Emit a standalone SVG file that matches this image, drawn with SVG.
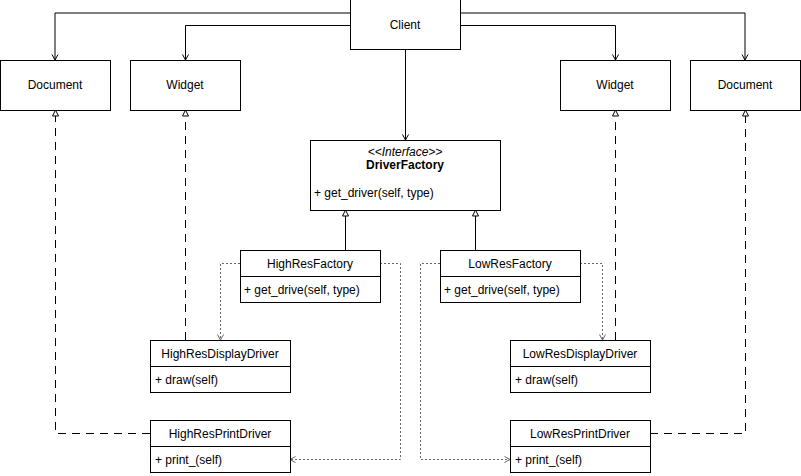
<svg xmlns="http://www.w3.org/2000/svg" width="801" height="476" viewBox="0 0 801 476">
<style>
.box{fill:#fff;stroke:#000;stroke-width:1}
.t{font-family:"Liberation Sans",Arial,sans-serif;font-size:12px;fill:#000}
.c{text-anchor:middle}
.solid{fill:none;stroke:#000;stroke-width:1}
.dash{fill:none;stroke:#000;stroke-width:1;stroke-dasharray:8 6}
.dot{fill:none;stroke:#666;stroke-width:1;stroke-dasharray:2 2}
</style>
<defs>
<marker id="open" viewBox="0 0 10 10" refX="10" refY="5" markerWidth="10" markerHeight="10" markerUnits="userSpaceOnUse" orient="auto">
<path d="M4.5,2 L10,5 L4.5,8" fill="none" stroke="#000" stroke-width="1"/>
</marker>
<marker id="openg" viewBox="0 0 10 10" refX="10" refY="5" markerWidth="10" markerHeight="10" markerUnits="userSpaceOnUse" orient="auto">
<path d="M4.5,2 L10,5 L4.5,8" fill="none" stroke="#666" stroke-width="1"/>
</marker>
<marker id="tri" viewBox="0 0 10 10" refX="10" refY="5" markerWidth="10" markerHeight="10" markerUnits="userSpaceOnUse" orient="auto">
<path d="M10,5 L4,2 L4,8 Z" fill="#fff" stroke="#000" stroke-width="1"/>
</marker>
</defs>

<g id="connectors">
<path class="solid" d="M350,13 H55 V60" marker-end="url(#open)"/>
<path class="solid" d="M350,25.5 H185.5 V60" marker-end="url(#open)"/>
<path class="solid" d="M460,25.5 H615.5 V60" marker-end="url(#open)"/>
<path class="solid" d="M460,13 H745 V60" marker-end="url(#open)"/>
<path class="solid" d="M405.5,50 V140" marker-end="url(#open)"/>
<path class="solid" d="M345.5,250 V210" marker-end="url(#tri)"/>
<path class="solid" d="M475.5,250 V210" marker-end="url(#tri)"/>
<path class="dash" d="M185.5,340 V110" marker-end="url(#tri)"/>
<path class="dash" d="M150,433.5 H55.5 V110" marker-end="url(#tri)"/>
<path class="dash" d="M615.5,340 V110" marker-end="url(#tri)"/>
<path class="dash" d="M650,433.5 H745.5 V110" marker-end="url(#tri)"/>
<path class="dot" d="M240,263.5 H220.5 V340" marker-end="url(#openg)"/>
<path class="dot" d="M380,263.5 H400.5 V459.5 H290" marker-end="url(#openg)"/>
<path class="dot" d="M440,263.5 H420.5 V459.5 H510" marker-end="url(#openg)"/>
<path class="dot" d="M580,263.5 H602.5 V340" marker-end="url(#openg)"/>
</g>

<g id="client">
<rect class="box" x="350.5" y="-0.5" width="110" height="50"/>
<text class="t c" x="405" y="29">Client</text>
</g>
<g id="document-left">
<rect class="box" x="0.5" y="60.5" width="110" height="50"/>
<text class="t c" x="55" y="89">Document</text>
</g>
<g id="widget-left">
<rect class="box" x="130.5" y="60.5" width="110" height="50"/>
<text class="t c" x="185" y="89">Widget</text>
</g>
<g id="widget-right">
<rect class="box" x="560.5" y="60.5" width="110" height="50"/>
<text class="t c" x="615" y="89">Widget</text>
</g>
<g id="document-right">
<rect class="box" x="690.5" y="60.5" width="110" height="50"/>
<text class="t c" x="745" y="89">Document</text>
</g>
<g id="driver-factory">
<rect class="box" x="310.5" y="140.5" width="190" height="70"/>
<text class="t c" x="405" y="156" font-style="italic">&lt;&lt;Interface&gt;&gt;</text>
<text class="t c" x="405" y="169" font-weight="bold">DriverFactory</text>
<text class="t" x="314" y="197">+ get_driver(self, type)</text>
</g>
<g id="highres-factory">
<rect class="box" x="240.5" y="250.5" width="140" height="52"/>
<line class="solid" x1="240.5" y1="276.5" x2="380.5" y2="276.5"/>
<text class="t c" x="310" y="268">HighResFactory</text>
<text class="t" x="244" y="294">+ get_drive(self, type)</text>
</g>
<g id="lowres-factory">
<rect class="box" x="440.5" y="250.5" width="140" height="52"/>
<line class="solid" x1="440.5" y1="276.5" x2="580.5" y2="276.5"/>
<text class="t c" x="510" y="268">LowResFactory</text>
<text class="t" x="444" y="294">+ get_drive(self, type)</text>
</g>
<g id="highres-display-driver">
<rect class="box" x="150.5" y="340.5" width="140" height="52"/>
<line class="solid" x1="150.5" y1="366.5" x2="290.5" y2="366.5"/>
<text class="t c" x="220" y="358">HighResDisplayDriver</text>
<text class="t" x="155" y="384">+ draw(self)</text>
</g>
<g id="highres-print-driver">
<rect class="box" x="150.5" y="420.5" width="140" height="52"/>
<line class="solid" x1="150.5" y1="446.5" x2="290.5" y2="446.5"/>
<text class="t c" x="220" y="438">HighResPrintDriver</text>
<text class="t" x="155" y="464">+ print_(self)</text>
</g>
<g id="lowres-display-driver">
<rect class="box" x="510.5" y="340.5" width="140" height="52"/>
<line class="solid" x1="510.5" y1="366.5" x2="650.5" y2="366.5"/>
<text class="t c" x="580" y="358">LowResDisplayDriver</text>
<text class="t" x="515" y="384">+ draw(self)</text>
</g>
<g id="lowres-print-driver">
<rect class="box" x="510.5" y="420.5" width="140" height="52"/>
<line class="solid" x1="510.5" y1="446.5" x2="650.5" y2="446.5"/>
<text class="t c" x="580" y="438">LowResPrintDriver</text>
<text class="t" x="515" y="464">+ print_(self)</text>
</g>
</svg>
